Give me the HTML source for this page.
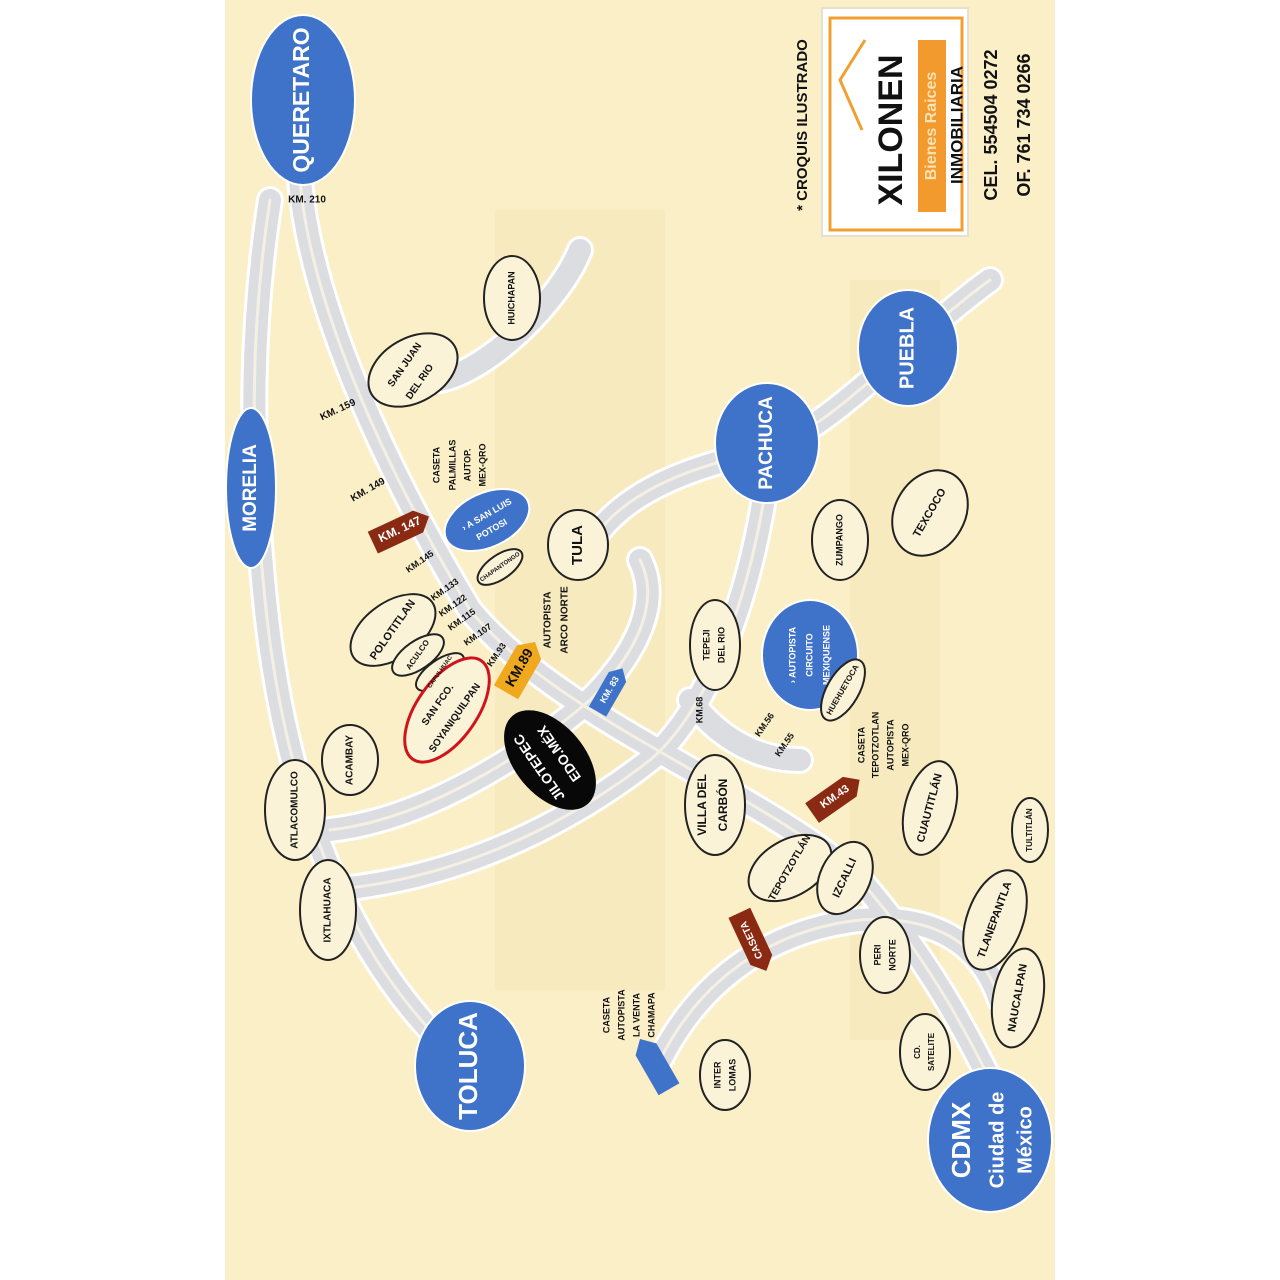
<!DOCTYPE html>
<html><head><meta charset="utf-8"><style>
html,body{margin:0;padding:0;background:#fff;width:1280px;height:1280px;overflow:hidden}
svg{display:block}
text{font-family:"Liberation Sans",sans-serif;font-weight:bold;text-anchor:middle;dominant-baseline:middle}
</style></head><body>
<svg width="1280" height="1280" viewBox="0 0 1280 1280" xmlns="http://www.w3.org/2000/svg">
<rect x="0" y="0" width="1280" height="1280" fill="#fff"/>
<rect x="225" y="0" width="830" height="1280" fill="#fbefc8"/>
<g fill="#f5e6b8" opacity="0.6">
<rect x="495" y="210" width="170" height="780"/>
<rect x="850" y="280" width="90" height="760"/>
</g>
<g fill="none" stroke-linecap="round">
<g stroke="#fff" stroke-width="28">
<path d="M300 180 C310 300 380 460 470 610 C560 720 760 790 860 880 C930 960 970 1040 990 1080"/>
<path d="M270 200 C250 330 250 450 265 600 C285 800 350 960 460 1060"/>
<path d="M330 830 C420 820 520 760 590 700 C640 650 660 600 640 560"/>
<path d="M330 890 C450 880 560 830 650 760 C720 700 760 560 770 450"/>
<path d="M600 530 C640 480 720 460 770 450 C840 420 920 330 990 280"/>
<path d="M660 1060 C700 980 770 930 860 920 C930 915 980 940 1000 1000"/>
<path d="M440 380 C490 370 560 300 580 250"/>
<path d="M690 700 C720 740 760 760 800 760"/>
</g>
<g stroke="#dcdde0" stroke-width="22">
<path d="M300 180 C310 300 380 460 470 610 C560 720 760 790 860 880 C930 960 970 1040 990 1080"/>
<path d="M270 200 C250 330 250 450 265 600 C285 800 350 960 460 1060"/>
<path d="M330 830 C420 820 520 760 590 700 C640 650 660 600 640 560"/>
<path d="M330 890 C450 880 560 830 650 760 C720 700 760 560 770 450"/>
<path d="M600 530 C640 480 720 460 770 450 C840 420 920 330 990 280"/>
<path d="M660 1060 C700 980 770 930 860 920 C930 915 980 940 1000 1000"/>
<path d="M440 380 C490 370 560 300 580 250"/>
<path d="M690 700 C720 740 760 760 800 760"/>
</g>
<g stroke="#f4f0e4" stroke-width="3">
<path d="M300 180 C310 300 380 460 470 610 C560 720 760 790 860 880 C930 960 970 1040 990 1080"/>
<path d="M270 200 C250 330 250 450 265 600 C285 800 350 960 460 1060"/>
<path d="M330 830 C420 820 520 760 590 700 C640 650 660 600 640 560"/>
<path d="M330 890 C450 880 560 830 650 760 C720 700 760 560 770 450"/>
<path d="M600 530 C640 480 720 460 770 450 C840 420 920 330 990 280"/>
<path d="M660 1060 C700 980 770 930 860 920 C930 915 980 940 1000 1000"/>
</g>
</g>
<rect x="822" y="8" width="146" height="228" fill="#fff" stroke="#e6e0d0" stroke-width="2"/>
<rect x="830" y="18" width="132" height="212" fill="none" stroke="#f0a030" stroke-width="3"/>
<path d="M865 40 L840 80 L862 130" fill="none" stroke="#f0a030" stroke-width="3"/>
<rect x="918" y="40" width="28" height="172" fill="#f29a2e"/>
<text transform="translate(893,130) rotate(-90)" font-size="34" fill="#111">XILONEN</text>
<text transform="translate(932,126) rotate(-90)" font-size="16" fill="#fde3b4">Bienes Raices</text>
<text transform="translate(958,125) rotate(-90)" font-size="17" fill="#111">INMOBILIARIA</text>
<text transform="translate(803,125) rotate(-90)" font-size="15" fill="#111">* CROQUIS ILUSTRADO</text>
<text transform="translate(992,125) rotate(-90)" font-size="18" fill="#111">CEL. 554504 0272</text>
<text transform="translate(1025,125) rotate(-90)" font-size="18" fill="#111">OF. 761 734 0266</text>
<g fill="#3f72c9" stroke="#fff" stroke-width="2">
<ellipse cx="303" cy="100" rx="52" ry="85"/>
<ellipse cx="251" cy="488" rx="25" ry="80"/>
<ellipse cx="767" cy="443" rx="52" ry="60"/>
<ellipse cx="908" cy="348" rx="50" ry="58"/>
<ellipse cx="470" cy="1066" rx="55" ry="65"/>
<ellipse cx="990" cy="1140" rx="62" ry="72"/>
<ellipse cx="487" cy="520" rx="45" ry="27" transform="rotate(-25 487 520)"/>
<ellipse cx="810" cy="655" rx="48" ry="55"/>
</g>
<g fill="#fff">
<text transform="translate(303,100) rotate(-90)" font-size="23">QUERETARO</text>
<text transform="translate(251,488) rotate(-90)" font-size="19">MORELIA</text>
<text transform="translate(767,443) rotate(-90)" font-size="19">PACHUCA</text>
<text transform="translate(908,348) rotate(-90)" font-size="20">PUEBLA</text>
<text transform="translate(470,1066) rotate(-90)" font-size="26">TOLUCA</text>
<text transform="translate(963,1140) rotate(-90)" font-size="26">CDMX</text>
<text transform="translate(998,1140) rotate(-90)" font-size="20">Ciudad de</text>
<text transform="translate(1026,1140) rotate(-90)" font-size="20">México</text>
<text transform="translate(487,515) rotate(-30)" font-size="9">› A SAN LUIS</text>
<text transform="translate(492,530) rotate(-30)" font-size="9">POTOSI</text>
<text transform="translate(793,655) rotate(-90)" font-size="9">› AUTOPISTA</text>
<text transform="translate(810,655) rotate(-90)" font-size="9">CIRCUITO</text>
<text transform="translate(827,655) rotate(-90)" font-size="9">MEXIQUENSE</text>
</g>
<ellipse cx="550" cy="760" rx="58" ry="35" transform="rotate(50 550 760)" fill="#080808"/>
<text transform="translate(560,753) rotate(-125)" font-size="14" fill="#fff">EDO.MÉX</text>
<text transform="translate(540,767) rotate(-125)" font-size="14" fill="#fff">JILOTEPEC</text>
<g fill="#fbf3d8" stroke="#222" stroke-width="2">
<ellipse cx="512" cy="298" rx="28" ry="42"/>
<ellipse cx="413" cy="370" rx="48" ry="32" transform="rotate(-30 413 370)"/>
<ellipse cx="578" cy="545" rx="30" ry="35"/>
<ellipse cx="393" cy="630" rx="48" ry="28" transform="rotate(-35 393 630)"/>
<ellipse cx="418" cy="655" rx="30" ry="14" transform="rotate(-35 418 655)"/>
<ellipse cx="440" cy="672" rx="28" ry="12" transform="rotate(-35 440 672)"/>
<ellipse cx="500" cy="567" rx="26" ry="12" transform="rotate(-35 500 567)"/>
<ellipse cx="350" cy="760" rx="28" ry="35"/>
<ellipse cx="295" cy="810" rx="30" ry="50"/>
<ellipse cx="328" cy="910" rx="28" ry="50"/>
<ellipse cx="715" cy="645" rx="25" ry="45"/>
<ellipse cx="715" cy="805" rx="30" ry="50"/>
<ellipse cx="840" cy="540" rx="28" ry="40"/>
<ellipse cx="930" cy="513" rx="35" ry="45" transform="rotate(30 930 513)"/>
<ellipse cx="843" cy="690" rx="16" ry="34" transform="rotate(30 843 690)"/>
<ellipse cx="790" cy="868" rx="45" ry="28" transform="rotate(-30 790 868)"/>
<ellipse cx="845" cy="878" rx="25" ry="38" transform="rotate(25 845 878)"/>
<ellipse cx="930" cy="808" rx="25" ry="48" transform="rotate(15 930 808)"/>
<ellipse cx="1030" cy="830" rx="18" ry="32"/>
<ellipse cx="995" cy="920" rx="28" ry="52" transform="rotate(20 995 920)"/>
<ellipse cx="885" cy="955" rx="25" ry="38"/>
<ellipse cx="1018" cy="998" rx="25" ry="50" transform="rotate(10 1018 998)"/>
<ellipse cx="925" cy="1052" rx="25" ry="38"/>
<ellipse cx="725" cy="1075" rx="25" ry="35"/>
</g>
<ellipse cx="447" cy="710" rx="30" ry="60" transform="rotate(35 447 710)" fill="#fbf3d8" stroke="#d0141c" stroke-width="3"/>
<g fill="#111">
<text transform="translate(512,298) rotate(-90)" font-size="9">HUICHAPAN</text>
<text transform="translate(405,365) rotate(-55)" font-size="10">SAN JUAN</text>
<text transform="translate(420,382) rotate(-55)" font-size="10">DEL RIO</text>
<text transform="translate(578,545) rotate(-90)" font-size="15">TULA</text>
<text transform="translate(393,630) rotate(-55)" font-size="11">POLOTITLAN</text>
<text transform="translate(418,655) rotate(-55)" font-size="8">ACULCO</text>
<text transform="translate(440,672) rotate(-55)" font-size="6">CAPULHUAC</text>
<text transform="translate(500,567) rotate(-35)" font-size="6">CHAPANTONGO</text>
<text transform="translate(438,705) rotate(-55)" font-size="10">SAN FCO.</text>
<text transform="translate(455,718) rotate(-55)" font-size="10">SOYANIQUILPAN</text>
<text transform="translate(350,760) rotate(-90)" font-size="10">ACAMBAY</text>
<text transform="translate(295,810) rotate(-90)" font-size="10">ATLACOMULCO</text>
<text transform="translate(328,910) rotate(-90)" font-size="10">IXTLAHUACA</text>
<text transform="translate(707,645) rotate(-90)" font-size="9">TEPEJI</text>
<text transform="translate(722,645) rotate(-90)" font-size="9">DEL RIO</text>
<text transform="translate(703,805) rotate(-90)" font-size="12">VILLA DEL</text>
<text transform="translate(724,805) rotate(-90)" font-size="12">CARBÓN</text>
<text transform="translate(840,540) rotate(-90)" font-size="9">ZUMPANGO</text>
<text transform="translate(930,513) rotate(-60)" font-size="11">TEXCOCO</text>
<text transform="translate(843,690) rotate(-60)" font-size="8">HUEHUETOCA</text>
<text transform="translate(790,868) rotate(-60)" font-size="10">TEPOTZOTLÁN</text>
<text transform="translate(845,878) rotate(-65)" font-size="11">IZCALLI</text>
<text transform="translate(930,808) rotate(-75)" font-size="11">CUAUTITLÁN</text>
<text transform="translate(1030,830) rotate(-90)" font-size="8">TULTITLÁN</text>
<text transform="translate(995,920) rotate(-70)" font-size="11">TLANEPANTLA</text>
<text transform="translate(878,955) rotate(-90)" font-size="9">PERI</text>
<text transform="translate(893,955) rotate(-90)" font-size="9">NORTE</text>
<text transform="translate(1018,998) rotate(-80)" font-size="11">NAUCALPAN</text>
<text transform="translate(918,1052) rotate(-90)" font-size="8">CD.</text>
<text transform="translate(932,1052) rotate(-90)" font-size="8">SATELITE</text>
<text transform="translate(718,1075) rotate(-90)" font-size="9">INTER</text>
<text transform="translate(733,1075) rotate(-90)" font-size="9">LOMAS</text>
<text x="307" y="200" font-size="10">KM. 210</text>
<text transform="translate(338,410) rotate(-25)" font-size="10">KM. 159</text>
<text transform="translate(368,490) rotate(-30)" font-size="10">KM. 149</text>
<text transform="translate(420,562) rotate(-35)" font-size="9">KM.145</text>
<text transform="translate(445,590) rotate(-35)" font-size="9">KM.133</text>
<text transform="translate(453,606) rotate(-35)" font-size="9">KM.122</text>
<text transform="translate(462,620) rotate(-35)" font-size="9">KM.115</text>
<text transform="translate(478,635) rotate(-35)" font-size="9">KM.107</text>
<text transform="translate(497,655) rotate(-55)" font-size="9">KM.93</text>
<text transform="translate(700,710) rotate(-90)" font-size="9">KM.68</text>
<text transform="translate(765,725) rotate(-55)" font-size="9">KM.56</text>
<text transform="translate(785,745) rotate(-55)" font-size="9">KM.55</text>
<text transform="translate(437,465) rotate(-90)" font-size="9">CASETA</text>
<text transform="translate(453,465) rotate(-90)" font-size="9">PALMILLAS</text>
<text transform="translate(468,465) rotate(-90)" font-size="9">AUTOP.</text>
<text transform="translate(483,465) rotate(-90)" font-size="9">MEX-QRO</text>
<text transform="translate(548,620) rotate(-90)" font-size="10">AUTOPISTA</text>
<text transform="translate(565,620) rotate(-90)" font-size="10">ARCO NORTE</text>
<text transform="translate(862,745) rotate(-90)" font-size="9">CASETA</text>
<text transform="translate(876,745) rotate(-90)" font-size="9">TEPOTZOTLAN</text>
<text transform="translate(891,745) rotate(-90)" font-size="9">AUTOPISTA</text>
<text transform="translate(906,745) rotate(-90)" font-size="9">MEX-QRO</text>
<text transform="translate(607,1015) rotate(-90)" font-size="9">CASETA</text>
<text transform="translate(622,1015) rotate(-90)" font-size="9">AUTOPISTA</text>
<text transform="translate(637,1015) rotate(-90)" font-size="9">LA VENTA</text>
<text transform="translate(652,1015) rotate(-90)" font-size="9">CHAMAPA</text>
</g>
<g>
<g transform="translate(400,530) rotate(-25)"><path d="M-30 -12 H20 L32 0 L20 12 H-30 Z" fill="#8a2a12"/><text font-size="12" fill="#fff">KM. 147</text></g>
<g transform="translate(520,668) rotate(-60)"><path d="M-28 -14 H18 L30 0 L18 14 H-28 Z" fill="#f0a81e"/><text font-size="14" fill="#111">KM.89</text></g>
<g transform="translate(610,690) rotate(-60)"><path d="M-25 -10 H15 L25 0 L15 10 H-25 Z" fill="#3f72c9"/><text font-size="9" fill="#fff">KM. 83</text></g>
<g transform="translate(835,797) rotate(-35)"><path d="M-28 -12 H18 L30 0 L18 12 H-28 Z" fill="#8a2a12"/><text font-size="11" fill="#fff">KM.43</text></g>
<g transform="translate(752,940) rotate(65)"><path d="M-30 -12 H22 L34 0 L22 12 H-30 Z" fill="#8a2a12"/><text font-size="10" fill="#fff" transform="rotate(180)">CASETA</text></g>
<g transform="translate(655,1065) rotate(-120)"><path d="M-28 -12 H18 L30 0 L18 12 H-28 Z" fill="#3f72c9"/></g>
</g>
</svg>
</body></html>
